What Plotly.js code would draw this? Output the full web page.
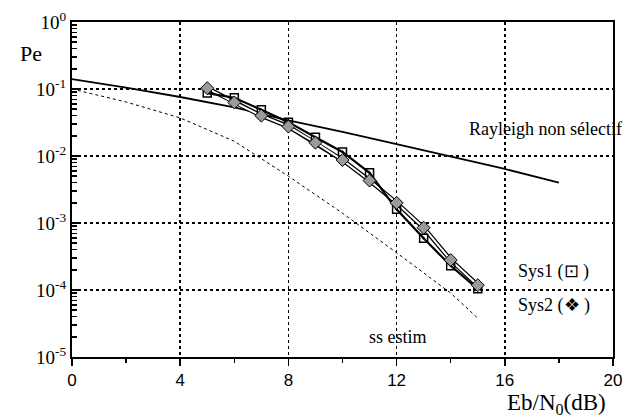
<!DOCTYPE html>
<html>
<head>
<meta charset="utf-8">
<script src="https://cdn.plot.ly/plotly-3.0.1.min.js"></script>
<style>html,body{margin:0;padding:0;background:#fff;}#chart{width:631px;height:417px;}</style>
</head>
<body>
<div id="chart"></div>
<script>
// Eb/N0 (dB) values
const snrRayleigh = [0, 2, 4, 6, 8, 10, 12, 14, 16, 18];
const peRayleigh = [0.14, 0.105, 0.076, 0.053, 0.034, 0.023, 0.015, 0.0097, 0.0064, 0.0040];

const snrEstim = [0, 2, 4, 6, 8, 10, 12, 14, 15];
const peEstim = [0.1, 0.064, 0.037, 0.0166, 0.0050, 0.0014, 0.00036, 0.000090, 0.000038];

const snrSys = [5, 6, 7, 8, 9, 10, 11, 12, 13, 14, 15];
const peSys1 = [0.087, 0.074, 0.049, 0.032, 0.019, 0.0115, 0.0056, 0.00160, 0.00059, 0.00023, 0.000104];
const peSys2 = [0.103, 0.063, 0.040, 0.0275, 0.0158, 0.0087, 0.0043, 0.0020, 0.00085, 0.00028, 0.000118];

const xTicks = [0, 4, 8, 12, 16, 20];
const xTickText = ["0", "4", "8", "12", "16", "20"];
const yTicks = [1, 0.1, 0.01, 0.001, 0.0001, 0.00001];
const yTickText = ["10<sup>0</sup>", "10<sup>-1</sup>", "10<sup>-2</sup>", "10<sup>-3</sup>", "10<sup>-4</sup>", "10<sup>-5</sup>"];

const serif = "'Times New Roman', 'Liberation Serif', serif";
const sans = "Arial, 'Liberation Sans', sans-serif";

const traces = [
  {x: snrRayleigh, y: peRayleigh, mode: "lines", line: {color: "#000", width: 1.8}, name: "Rayleigh non sélectif"},
  {x: snrEstim, y: peEstim, mode: "lines", line: {color: "#000", width: 1, dash: "dot"}, name: "ss estim"},
  {x: snrSys, y: peSys2, mode: "lines", line: {color: "#000", width: 4.5}, showlegend: false, hoverinfo: "skip"},
  {x: snrSys, y: peSys2, mode: "lines", line: {color: "#fff", width: 2}, showlegend: false, hoverinfo: "skip"},
  {x: snrSys, y: peSys1, mode: "lines+markers", line: {color: "#000", width: 2.2},
   marker: {symbol: "square-open-dot", size: 8, color: "#000", line: {width: 1.5}}, name: "Sys1"},
  {x: snrSys, y: peSys2, mode: "markers",
   marker: {symbol: "diamond", size: 10, color: "#9a9a9a", line: {color: "#000", width: 1}}, name: "Sys2"}
];

const layout = {
  width: 631, height: 417,
  margin: {l: 72, r: 18, t: 22, b: 60},
  paper_bgcolor: "#fff", plot_bgcolor: "#fff",
  showlegend: false,
  font: {family: serif, color: "#000"},
  xaxis: {
    range: [0, 20], tickvals: xTicks, ticktext: xTickText,
    ticks: "outside", ticklen: 7, tickwidth: 1.5, tickcolor: "#000",
    minor: {tickvals: [2, 6, 10, 14, 18], ticks: "outside", ticklen: 4, tickwidth: 1.5, tickcolor: "#000", showgrid: false},
    showline: true, linecolor: "#000", linewidth: 2, mirror: true,
    showgrid: true, gridcolor: "#000", griddash: "dot", gridwidth: 1.5,
    zeroline: false,
    tickfont: {family: sans, size: 17, color: "#000"}
  },
  yaxis: {
    type: "log", range: [-5, 0], tickvals: yTicks, ticktext: yTickText,
    ticks: "inside", ticklen: 9, tickwidth: 2, tickcolor: "#000",
    minor: {dtick: "D1", ticks: "inside", ticklen: 5, tickwidth: 1.5, tickcolor: "#000", showgrid: false},
    showline: true, linecolor: "#000", linewidth: 2, mirror: true,
    showgrid: true, gridcolor: "#000", griddash: "dot", gridwidth: 1.5,
    zeroline: false,
    tickfont: {family: serif, size: 19, color: "#000"}
  },
  annotations: [
    {text: "Pe", xref: "paper", yref: "paper", x: -0.075, y: 0.905, xanchor: "center", yanchor: "middle", showarrow: false,
     font: {family: serif, size: 22, color: "#000"}},
    {text: "Rayleigh non sélectif", xref: "paper", yref: "paper", x: 0.73, y: 0.68, xanchor: "left", yanchor: "middle", showarrow: false,
     font: {family: serif, size: 18, color: "#000"}},
    {text: "Sys1 (⊡ )", xref: "paper", yref: "paper", x: 0.82, y: 0.255, xanchor: "left", yanchor: "middle", showarrow: false,
     font: {family: serif, size: 18, color: "#000"}},
    {text: "Sys2 (❖ )", xref: "paper", yref: "paper", x: 0.82, y: 0.155, xanchor: "left", yanchor: "middle", showarrow: false,
     font: {family: serif, size: 18, color: "#000"}},
    {text: "ss estim", xref: "paper", yref: "paper", x: 0.602, y: 0.06, xanchor: "center", yanchor: "middle", showarrow: false,
     font: {family: serif, size: 18, color: "#000"}},
    {text: "Eb/N<sub>0</sub>(dB)", xref: "paper", yref: "paper", x: 0.99, y: -0.14, xanchor: "right", yanchor: "middle", showarrow: false,
     font: {family: serif, size: 23, color: "#000"}}
  ]
};

Plotly.newPlot("chart", traces, layout, {staticPlot: true, displayModeBar: false});
</script>
</body>
</html>
